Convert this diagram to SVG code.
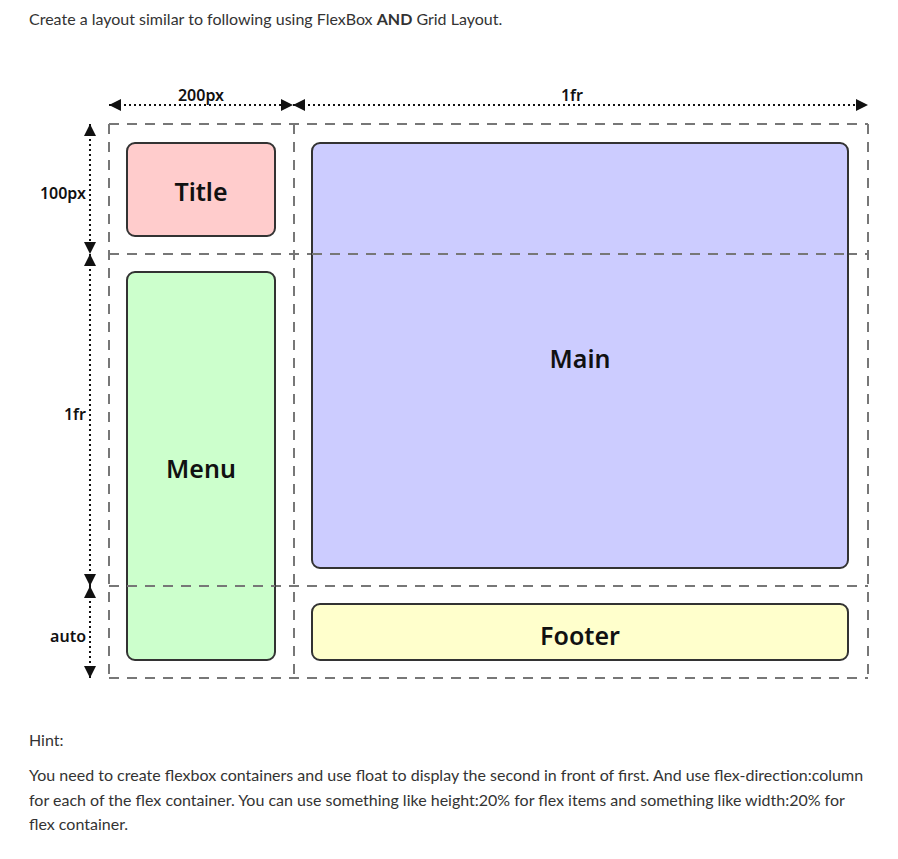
<svg xmlns="http://www.w3.org/2000/svg" width="898" height="859" viewBox="0 0 898 859">
<style>
.t{font-family:Lato,"Liberation Sans",sans-serif;font-size:16px;fill:#333}
.lb{font-family:"Noto Sans","Open Sans",sans-serif;font-size:16px;font-weight:600;fill:#111}
.nl{font-family:"Noto Sans","Open Sans",sans-serif;font-size:25px;font-weight:600;fill:#111;text-anchor:middle}
.grid{stroke:#777;stroke-width:2;stroke-dasharray:10,8;fill:none}
.box{stroke:#333;stroke-width:2}
.dim{stroke:#111;stroke-width:2;stroke-dasharray:2,3;fill:none}
</style>
<defs>
<marker id="a" viewBox="0 0 10 10" refX="10" refY="5" markerWidth="12" markerHeight="12" orient="auto-start-reverse" markerUnits="userSpaceOnUse"><path d="M0,0L10,5L0,10z" fill="#111"/></marker>
</defs>
<rect width="898" height="859" fill="#fff"/>
<text class="t" x="29" y="25">Create a layout similar to following using FlexBox <tspan font-weight="bold">AND</tspan> Grid Layout.</text>
<g id="grid">
<line class="grid" x1="109" y1="124" x2="868" y2="124"/>
<line class="grid" x1="109" y1="254" x2="868" y2="254"/>
<line class="grid" x1="109" y1="586" x2="868" y2="586"/>
<line class="grid" x1="109" y1="678" x2="868" y2="678"/>
<line class="grid" x1="109" y1="124" x2="109" y2="678"/>
<line class="grid" x1="294" y1="124" x2="294" y2="678"/>
<line class="grid" x1="868" y1="124" x2="868" y2="678"/>
</g>
<g id="menu"><rect class="box" x="127" y="272" width="148" height="388" rx="8" fill="#ccffcc"/><text class="nl" x="201" y="478">Menu</text></g>
<line class="grid" x1="127" y1="586" x2="275" y2="586"/>
<g id="title"><rect class="box" x="127" y="143" width="148" height="93" rx="8" fill="#ffcccc"/><text class="nl" x="201" y="201">Title</text></g>
<g id="main"><rect class="box" x="312" y="143" width="536" height="425" rx="8" fill="#ccccff"/><text class="nl" x="580" y="368">Main</text></g>
<line class="grid" x1="312" y1="254" x2="848" y2="254"/>
<g id="footer"><rect class="box" x="312" y="604" width="536" height="56" rx="8" fill="#ffffcc"/><text class="nl" x="580" y="645">Footer</text></g>
<g id="connectors">
<line class="dim" x1="109" y1="105" x2="293" y2="105" marker-start="url(#a)" marker-end="url(#a)"/>
<line class="dim" x1="293" y1="105" x2="868" y2="105" marker-start="url(#a)" marker-end="url(#a)"/>
<line class="dim" x1="90" y1="124" x2="90" y2="254" marker-start="url(#a)" marker-end="url(#a)"/>
<line class="dim" x1="90" y1="254" x2="90" y2="586" marker-start="url(#a)" marker-end="url(#a)"/>
<line class="dim" x1="90" y1="586" x2="90" y2="678" marker-start="url(#a)" marker-end="url(#a)"/>
</g>
<text class="lb" x="201" y="101" text-anchor="middle">200px</text>
<text class="lb" x="572" y="101" text-anchor="middle">1fr</text>
<text class="lb" x="86" y="199" text-anchor="end">100px</text>
<text class="lb" x="86" y="420" text-anchor="end">1fr</text>
<text class="lb" x="86" y="642" text-anchor="end">auto</text>
<text class="t" x="29" y="746">Hint:</text>
<text class="t" x="29" y="781">You need to create flexbox containers and use float to display the second in front of first. And use flex-direction:column</text>
<text class="t" x="29" y="806">for each of the flex container. You can use something like height:20% for flex items  and something like width:20% for</text>
<text class="t" x="29" y="830">flex container.</text>
</svg>
